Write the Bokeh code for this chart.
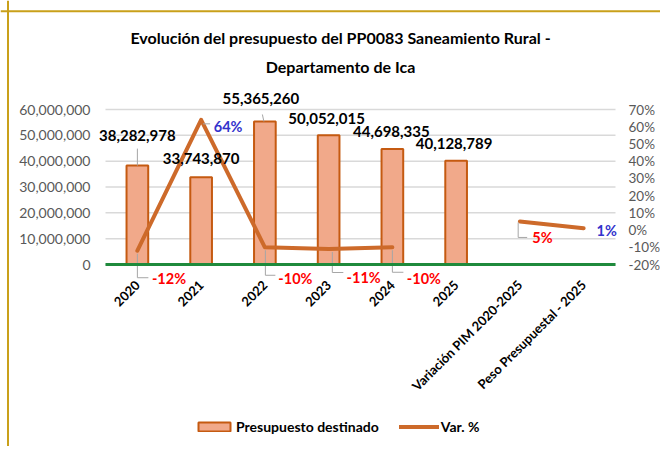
import math
from bokeh.plotting import figure
from bokeh.models import (ColumnDataSource, LinearAxis, Range1d, FixedTicker, NumeralTickFormatter,
                          LabelSet, Label, Legend, LegendItem, Span)
from bokeh.embed import file_html
from bokeh.resources import INLINE
from bokeh.core.properties import value

# ---------------- data ----------------
categories = ["2020", "2021", "2022", "2023", "2024", "2025",
              "Variación PIM 2020-2025", "Peso Presupuestal - 2025"]
budget = [38282978, 33743870, 55365260, 50052015, 44698335, 40128789]   # first six categories
var_pct = [-0.12, 0.64, -0.10, -0.11, -0.10, float("nan"), 0.05, 0.01]
left_ticks = [0, 10000000, 20000000, 30000000, 40000000, 50000000, 60000000]
right_ticks = [-0.2, -0.1, 0.0, 0.1, 0.2, 0.3, 0.4, 0.5, 0.6, 0.7]
title_line1 = "Evolución del presupuesto del PP0083 Saneamiento Rural -"
title_line2 = "Departamento de Ica"

# ---------------- layout / style ----------------
W, H = 660, 446
FR_LEFT, FR_RIGHT = 105, 615     # canvas px of category area
FR_TOP, FR_BOTTOM = 109, 264     # canvas px of value area (top tick / zero)
FONT = "Lato"
BAR_FILL = "#F1A98A"
BAR_LINE = "#C55A11"
LINE_COLOR = "#CD6A2A"
GREEN = "#1F8A3C"
GOLD = "#C9A01A"
GRAY_TXT = "#595959"
GRID = "#D9D9D9"
LEADER = "#A6A6A6"
RED, BLUE = "#FF0000", "#3333CC"

bar_label_off = [(0, 30), (0, 19), (-4, 23), (-2, 17), (-1, 17.5), (-2, 17)]
pct_label_off = [(31.6, -28), (27, -7), (30.5, -31), (35, -28.5), (31.5, -31), None, (22.5, -16), (23, -2)]
pct_colors = [RED, BLUE, RED, RED, RED, None, RED, BLUE]
bar_leaders = {0: [((0, 17), (0, 0))], 2: [((-2.5, 7), (-1, 0))]}
pct_leaders = {
    0: [((0, -3), (0, -27)), ((0, -27), (11, -27))],
    1: [((2, -4), (9, -4))],
    2: [((0.5, -3), (0.5, -28)), ((0.5, -28), (10.5, -28))],
    3: [((3.7, -3), (3.7, -23.5)), ((3.7, -23.5), (14.7, -23.5))],
    4: [((0, -3), (0, -25)), ((0, -25), (11, -25))],
    6: [((-1.7, -1), (-1.7, -16)), ((-1.7, -16), (7.3, -16))],
}

n = len(categories)
xs = [i + 0.5 for i in range(n)]
px_x = n / (FR_RIGHT - FR_LEFT)
px_y1 = (left_ticks[-1] - left_ticks[0]) / (FR_BOTTOM - FR_TOP)
px_y2 = (right_ticks[-1] - right_ticks[0]) / (FR_BOTTOM - FR_TOP)

x_range = Range1d(-FR_LEFT * px_x, n + (W - FR_RIGHT) * px_x)
y_range = Range1d(left_ticks[0] - (H - FR_BOTTOM) * px_y1, left_ticks[-1] + FR_TOP * px_y1)
y2_range = Range1d(right_ticks[0] - (H - FR_BOTTOM) * px_y2, right_ticks[-1] + FR_TOP * px_y2)

p = figure(x_range=x_range, y_range=y_range, width=W, height=H,
           x_axis_type=None, y_axis_type=None,
           output_backend="svg", toolbar_location=None,
           min_border_left=0, min_border_right=0, min_border_top=0, min_border_bottom=0)
p.extra_y_ranges = {"pct": y2_range}
p.outline_line_color = None
p.background_fill_color = "white"
p.border_fill_color = "white"

# chart border (top and left edges visible)
p.add_layout(Span(location=y_range.end - 10.7 * px_y1, dimension="width", line_color=GOLD, line_width=2))
p.add_layout(Span(location=x_range.start + 7.5 * px_x, dimension="height", line_color=GOLD, line_width=2))

# gridlines
p.segment(x0=[0] * len(left_ticks), x1=[n] * len(left_ticks), y0=left_ticks, y1=left_ticks,
          line_color=GRID, line_width=1.5)

# value axes
ya = LinearAxis(ticker=FixedTicker(ticks=left_ticks), formatter=NumeralTickFormatter(format="0,0"),
                fixed_location=0)
ra = LinearAxis(y_range_name="pct", ticker=FixedTicker(ticks=right_ticks),
                formatter=NumeralTickFormatter(format="0%"), fixed_location=n)
for ax, size, stand in ((ya, "14px", 15), (ra, "13.5px", 13)):
    ax.axis_line_color = None
    ax.major_tick_line_color = None
    ax.minor_tick_line_color = None
    ax.major_tick_out = 0
    ax.major_tick_in = 0
    ax.major_label_standoff = stand
    ax.major_label_text_color = GRAY_TXT
    ax.major_label_text_font = FONT
    ax.major_label_text_font_size = size
p.add_layout(ya, "left")
p.add_layout(ra, "right")

# category axis at zero
xa = LinearAxis(ticker=FixedTicker(ticks=xs), fixed_location=0, bounds=(0, n),
                major_label_overrides={x: c for x, c in zip(xs, categories)})
xa.axis_line_color = GREEN
xa.axis_line_width = 3
xa.major_tick_line_color = None
xa.minor_tick_line_color = None
xa.major_tick_out = 0
xa.major_tick_in = 0
xa.major_label_orientation = math.pi / 4
xa.major_label_standoff = 18
xa.major_label_text_font = FONT
xa.major_label_text_font_style = "bold"
xa.major_label_text_font_size = "13px"
xa.major_label_text_color = "black"
p.add_layout(xa, "below")

# bars
nb = len(budget)
bar_src = ColumnDataSource(dict(x=xs[:nb], top=budget,
                                text=["{:,}".format(v) for v in budget],
                                dx=[o[0] for o in bar_label_off],
                                dy=[o[1] for o in bar_label_off]))
bars = p.vbar(x="x", top="top", bottom=0, width=0.34, source=bar_src,
              fill_color=BAR_FILL, line_color=BAR_LINE, line_width=2)

# line
line = p.line(x=xs, y=var_pct, y_range_name="pct",
              line_color=LINE_COLOR, line_width=4, line_join="round", line_cap="round")

# leader lines
def leader_data(leaders, vals, py):
    d = dict(x0=[], y0=[], x1=[], y1=[])
    for i, segs in leaders.items():
        for (a, b) in segs:
            d["x0"].append(xs[i] + a[0] * px_x)
            d["y0"].append(vals[i] + a[1] * py)
            d["x1"].append(xs[i] + b[0] * px_x)
            d["y1"].append(vals[i] + b[1] * py)
    return d

p.segment(source=ColumnDataSource(leader_data(bar_leaders, budget, px_y1)),
          x0="x0", y0="y0", x1="x1", y1="y1", line_color=LEADER, line_width=1)
p.segment(source=ColumnDataSource(leader_data(pct_leaders, var_pct, px_y2)),
          x0="x0", y0="y0", x1="x1", y1="y1", line_color=LEADER, line_width=1, y_range_name="pct")

# bar labels
p.add_layout(LabelSet(x="x", y="top", text="text", x_offset="dx", y_offset="dy", source=bar_src,
                      text_align="center", text_baseline="middle", text_font=value(FONT),
                      text_font_style="bold", text_font_size="15px", text_color="black"))

# pct labels
idx = [i for i, v in enumerate(var_pct) if not math.isnan(v)]
pct_src = ColumnDataSource(dict(
    x=[xs[i] for i in idx],
    y=[var_pct[i] for i in idx],
    text=["{:.0%}".format(var_pct[i]) for i in idx],
    dx=[pct_label_off[i][0] for i in idx],
    dy=[pct_label_off[i][1] for i in idx],
    color=[pct_colors[i] for i in idx]))
p.add_layout(LabelSet(x="x", y="y", text="text", x_offset="dx", y_offset="dy", source=pct_src,
                      y_range_name="pct", text_align="center", text_baseline="middle",
                      text_font=value(FONT), text_font_style="bold", text_font_size="14.5px",
                      text_color="color"))

# title (two lines)
p.add_layout(Label(x=340, y=H - 37, x_units="screen", y_units="screen", text=title_line1,
                   text_align="center", text_baseline="middle", text_font=FONT,
                   text_font_style="bold", text_font_size="16px", text_color="black"))
p.add_layout(Label(x=340, y=H - 66, x_units="screen", y_units="screen", text=title_line2,
                   text_align="center", text_baseline="middle", text_font=FONT,
                   text_font_style="bold", text_font_size="16px", text_color="black"))

# legend
legend = Legend(items=[LegendItem(label="Presupuesto destinado", renderers=[bars]),
                       LegendItem(label="Var. %", renderers=[line])],
                location=(194, H - 429 - 5.5), orientation="horizontal",
                glyph_width=40, glyph_height=11, label_height=11, label_standoff=2,
                spacing=20, padding=0, margin=0, border_line_color=None,
                background_fill_alpha=0, label_text_font=FONT, label_text_font_style="bold",
                label_text_font_size="14px", label_text_line_height=0.8,
                label_text_color="black")
p.add_layout(legend)

open("out.html", "w").write(file_html(p, INLINE))
